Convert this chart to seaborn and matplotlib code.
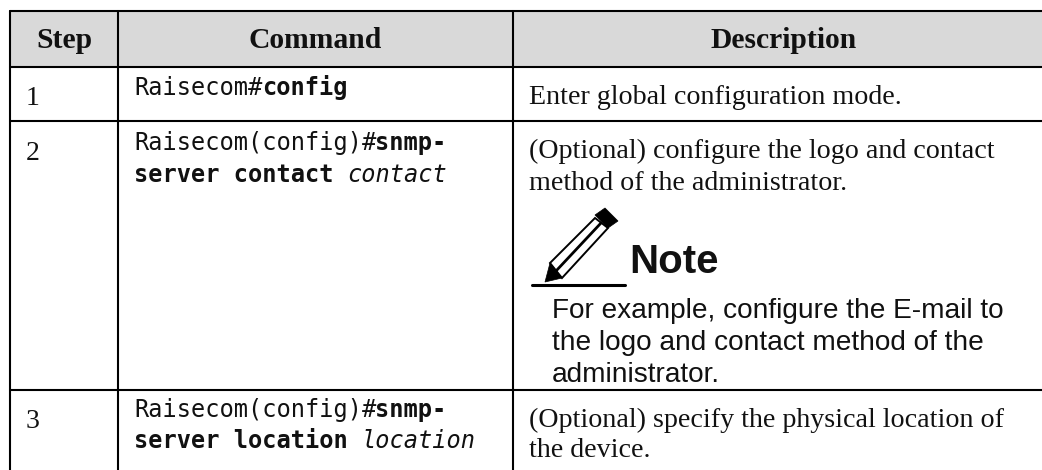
import numpy as np
import pandas as pd
import matplotlib.pyplot as plt
import seaborn as sns
from matplotlib.patches import Polygon

# table content
headers = ['Step', 'Command', 'Description']
steps = ['1', '2', '3']
desc_lines = [
    'Enter global configuration mode.',
    '(Optional) configure the logo and contact',
    'method of the administrator.',
    '(Optional) specify the physical location of',
    'the device.',
]
note_title = 'Note'
note_lines = [
    'For example, configure the E-mail to',
    'the logo and contact method of the',
    'administrator.',
]

# each command line is a list of (text, style) pieces
command_lines = [
    [('Raisecom#', 'normal'), ('config', 'bold')],
    [('Raisecom(config)#', 'normal'), ('snmp-', 'bold')],
    [('server contact ', 'bold'), ('contact', 'italic')],
    [('Raisecom(config)#', 'normal'), ('snmp-', 'bold')],
    [('server location ', 'bold'), ('location', 'italic')],
]

# layout, in pixels of the picture (table runs past the right edge)
col_edges = [10, 118, 513, 1055]
row_edges = [11, 67, 121, 390]
img_w, img_h = 1042, 470
step_y = [105, 160, 428]
cmd_y = [95, 150, 182, 417, 448]
desc_y = [104, 158, 190, 427, 457]
note_y = [318, 350, 382]

sns.set_theme(style='white')
plt.rcParams['font.family'] = ['Liberation Serif', 'DejaVu Serif']

fig = plt.figure(figsize=(img_w / 100, img_h / 100), dpi=100)
ax = fig.add_axes([0, 0, 1, 1])
ax.axis('off')

# header band
ax.fill_between([col_edges[0], col_edges[-1]], row_edges[0], row_edges[1], color='#d9d9d9', lw=0, zorder=0)

# grid lines, no bottom rule: the verticals just run off the picture
for y in row_edges:
    sns.lineplot(x=[col_edges[0], col_edges[-1]], y=[y, y], color='black', lw=1.5, ax=ax, zorder=2)
for x in col_edges[:-1]:
    sns.lineplot(x=[x, x], y=[row_edges[0], img_h], color='black', lw=1.5, ax=ax, zorder=2, orient='y')

# header text
for i, h in enumerate(headers):
    xc = (col_edges[i] + col_edges[i + 1]) / 2
    ax.text(xc, 48, h, ha='center', va='baseline', fontsize=21.3, fontweight='bold', color='#111111')

# step numbers
for s, y in zip(steps, step_y):
    ax.text(26, y, s, ha='left', va='baseline', fontsize=20, color='#111111')

# commands, pieces placed one after another
mono_w = 14.2
for pieces, y in zip(command_lines, cmd_y):
    x = 134
    for txt, style in pieces:
        ax.text(x, y, txt, ha='left', va='baseline', fontsize=17, family=['DejaVu Sans Mono'],
                fontweight='bold' if style == 'bold' else 'normal',
                fontstyle='italic' if style == 'italic' else 'normal', color='#111111')
        x += mono_w * len(txt)

# description text
for d, y in zip(desc_lines, desc_y):
    ax.text(529, y, d, ha='left', va='baseline', fontsize=20.2, color='#111111')

# pencil icon
ax.add_patch(Polygon([[550, 263], [595, 218], [608, 228], [562, 278]], closed=True, fc='white',
                     ec='black', lw=1.4, zorder=3))
sns.lineplot(x=[556, 601], y=[271, 223], color='black', lw=2.0, ax=ax, zorder=4)
ax.add_patch(Polygon([[595, 215], [605, 208], [618, 221], [608, 228]], closed=True, fc='black',
                     ec='black', lw=0.5, zorder=4))
ax.add_patch(Polygon([[545, 282], [550, 263], [562, 278]], closed=True, fc='black', ec='black',
                     lw=0.5, zorder=4))
sns.lineplot(x=[532, 625], y=[285, 285], color='black', lw=2.2, ax=ax, zorder=4)

# note
ax.text(629, 273, note_title, ha='left', va='baseline', fontsize=29, fontweight='bold',
        family=['Liberation Sans'], color='#111111')
for t, y in zip(note_lines, note_y):
    ax.text(552, y, t, ha='left', va='baseline', fontsize=20.2, family=['Liberation Sans'], color='#111111')

ax.set_xlim(0, img_w)
ax.set_ylim(img_h, 0)

fig.savefig('out.png', dpi=100)
plt.close(fig)
